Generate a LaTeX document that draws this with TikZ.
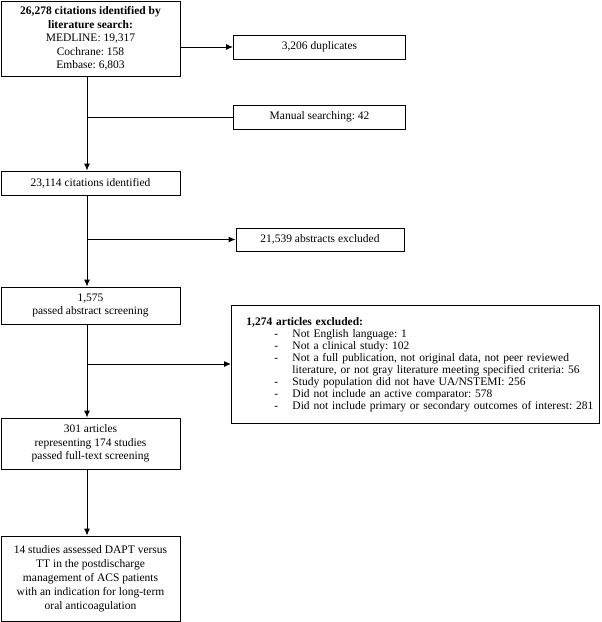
\documentclass[tikz,border=0pt]{standalone}
\usepackage{fontspec}
\setmainfont{Liberation Serif}
\usetikzlibrary{arrows.meta,calc}
\newcommand{\itm}[1]{\makebox[46pt][l]{\hspace*{28pt}-}#1\\}
\newcommand{\itc}[1]{\makebox[46pt][l]{}#1\\}
\begin{document}
\frenchspacing
\begin{tikzpicture}[x=1pt,y=-1pt,
  box/.style={draw, line width=0.9pt, inner sep=2pt, align=center,
    font=\fontsize{11.5}{13.5}\selectfont},
  conn/.style={line width=1pt},
  arr/.style={conn, -{Latex[length=7pt,width=6pt]}}]
\useasboundingbox (0,0) rectangle (602,622);
\coordinate (sx) at (87,0);
% main column
\node[box, minimum width=179pt, minimum height=75pt] (b1) at (90.5,38.5)
  {\textbf{26,278 citations identified by}\\\textbf{literature search:}\\MEDLINE: 19,317\\Cochrane: 158\\Embase: 6,803};
\node[box, minimum width=179pt, minimum height=24pt] (b2) at (90.5,183)
  {23,114 citations identified};
\node[box, minimum width=179pt, minimum height=37pt] (b3) at (90.5,305.5)
  {1,575\\passed abstract screening};
\node[box, minimum width=179pt, minimum height=51pt] (b4) at (90.5,443.5)
  {301 articles\\representing 174 studies\\passed full-text screening};
\node[box, minimum width=179pt, minimum height=85pt,
  font=\fontsize{11.5}{14}\selectfont] (b5) at (90.5,578.5)
  {14 studies assessed DAPT versus\\TT in the postdischarge\\management of ACS patients\\with an indication for long-term\\oral anticoagulation};
% side boxes
\node[box, minimum width=172pt, minimum height=24pt] (d1) at (319.5,47)
  {3,206 duplicates};
\node[box, minimum width=172pt, minimum height=24pt] (d2) at (319.5,117)
  {Manual searching: 42};
\node[box, minimum width=168pt, minimum height=23pt] (d3) at (320,239.5)
  {21,539 abstracts excluded};
\node[box, minimum width=368pt, minimum height=118pt, align=left, anchor=north west,
  inner sep=0pt, text width=368pt] (d4) at (231,305)
  {\hspace*{15pt}\begin{minipage}{352pt}\fontsize{11.5}{12}\selectfont
  \textbf{1,274 articles excluded:}\\
  \itm{Not English language: 1}
  \itm{Not a clinical study: 102}
  \itm{Not a full publication, not original data, not peer reviewed}
  \itc{literature, or not gray literature meeting specified criteria: 56}
  \itm{Study population did not have UA/NSTEMI: 256}
  \itm{Did not include an active comparator: 578}
  \makebox[46pt][l]{\hspace*{28pt}-}Did not include primary or secondary outcomes of interest: 281
  \end{minipage}};
% connectors
\draw[arr] (b1.south -| sx) -- (b2.north -| sx);
\draw[arr] (b2.south -| sx) -- (b3.north -| sx);
\draw[arr] (b3.south -| sx) -- (b4.north -| sx);
\draw[arr] (b4.south -| sx) -- (b5.north -| sx);
\draw[arr] (b1.east |- d1) -- (d1.west);
\draw[conn] (d2.west) -- (d2.west -| sx);
\draw[arr] (d3.west -| sx) -- (d3.west);
\coordinate (j4) at (87,364);
\draw[arr] (j4) -- (j4 -| d4.west);
\end{tikzpicture}
\end{document}
